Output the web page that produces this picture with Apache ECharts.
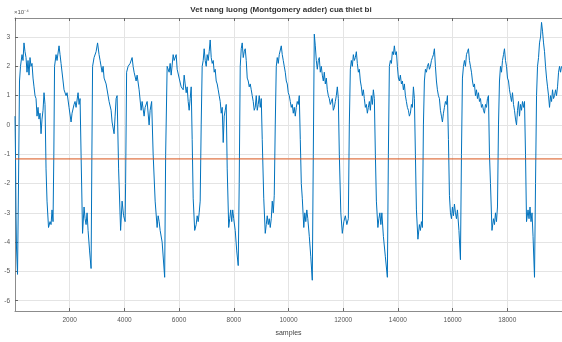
<!DOCTYPE html>
<html>
<head>
<meta charset="utf-8">
<script src="https://cdn.jsdelivr.net/npm/echarts@6/dist/echarts.min.js"></script>
<style>
html,body{margin:0;padding:0;background:#fff;}
#chart{width:562px;height:342px;}
</style>
</head>
<body>
<div id="chart"></div>
<script>
// Title / labels
var titleText = 'Vet nang luong (Montgomery adder) cua thiet bi';
var xLabel = 'samples';
var yExponent = '\u00d710\u207b\u2074';

// Sample indices (x)
var samples = [0,18,37,55,92,128,165,201,256,293,329,366,403,439,476,512,549,586,622,659,695,732,769,805,842,878,915,952,988,1025,1061,1098,1135,1171,1226,1281,1318,1354,1391,1420,1446,1501,1537,1610,1647,1684,1757,1793,1867,1903,1976,2050,2086,2159,2196,2233,2306,2342,2379,2416,2470,2525,2562,2599,2635,2672,2727,2782,2811,2837,2891,2965,3019,3074,3111,3184,3221,3257,3331,3404,3440,3514,3550,3623,3660,3697,3733,3788,3861,3916,3971,4026,4044,4081,4136,4209,4282,4319,4355,4429,4465,4538,4612,4648,4721,4758,4831,4904,4941,4996,5051,5124,5197,5234,5270,5307,5380,5472,5508,5563,5636,5673,5710,5783,5819,5893,5929,6002,6076,6149,6185,6222,6259,6295,6332,6368,6405,6442,6478,6515,6570,6625,6661,6698,6734,6771,6808,6844,6881,6917,6954,6991,7027,7064,7100,7137,7174,7210,7247,7283,7320,7357,7393,7430,7466,7503,7540,7576,7613,7649,7686,7723,7759,7814,7851,7887,7924,7960,7997,8052,8107,8162,8198,8235,8272,8308,8345,8381,8418,8455,8491,8528,8564,8601,8638,8674,8711,8747,8784,8821,8857,8894,8930,8967,9004,9040,9095,9150,9187,9223,9260,9296,9333,9370,9406,9443,9479,9516,9553,9589,9626,9662,9699,9736,9772,9809,9845,9882,9919,9955,9992,10028,10065,10102,10138,10175,10211,10248,10285,10321,10358,10394,10431,10468,10504,10559,10596,10632,10669,10706,10760,10815,10870,10907,10943,10980,11017,11053,11090,11126,11163,11200,11236,11273,11309,11346,11383,11419,11456,11492,11529,11566,11602,11639,11675,11712,11749,11785,11822,11858,11913,11968,12023,12078,12133,12188,12224,12261,12298,12334,12371,12407,12444,12481,12517,12554,12590,12627,12664,12700,12737,12773,12810,12847,12883,12920,12956,12993,13030,13066,13103,13139,13176,13213,13268,13304,13341,13377,13414,13469,13542,13615,13652,13688,13725,13762,13798,13835,13871,13908,13945,13981,14018,14054,14091,14128,14164,14201,14237,14274,14311,14347,14384,14420,14457,14494,14530,14567,14603,14640,14677,14732,14786,14823,14860,14896,14933,14969,15006,15043,15079,15116,15152,15189,15226,15262,15299,15335,15372,15409,15445,15482,15518,15555,15592,15628,15665,15701,15738,15775,15811,15848,15884,15921,15958,15994,16031,16067,16104,16141,16177,16232,16287,16324,16360,16397,16433,16470,16507,16543,16580,16616,16653,16690,16726,16763,16799,16836,16873,16909,16946,16982,17019,17056,17092,17129,17165,17202,17239,17275,17312,17348,17385,17440,17495,17531,17568,17605,17641,17678,17714,17751,17788,17824,17861,17897,17934,17971,18007,18044,18080,18117,18154,18190,18227,18263,18300,18337,18373,18410,18446,18483,18520,18556,18593,18629,18666,18703,18758,18794,18831,18867,18904,18941,18995,19032,19069,19105,19142,19178,19215,19252,19288,19325,19361,19398,19435,19471,19508,19544,19581,19618,19654,19691,19727,19764,19800,19837,19874,19910,19947,19983];

// Trace values (units of 1e-4)
var trace = [0.3,-1.0,-3.0,-4.2,-5.1,-2.0,1.5,2.0,2.4,2.2,2.8,2.5,2.3,1.8,2.2,1.7,2.3,2.0,2.1,1.6,1.3,1.0,0.9,0.3,0.6,0.2,0.4,-0.3,0.2,0.5,1.1,0.7,-1.5,-2.6,-3.5,-3.3,-3.4,-2.9,-3.3,-1.0,2.0,2.4,2.2,2.7,2.4,2.1,1.5,1.2,1.0,1.1,0.6,0.1,0.4,0.7,0.8,0.6,1.1,0.7,0.9,-1.0,-3.7,-2.8,-3.2,-3.4,-3.0,-3.6,-4.3,-4.9,-1.0,2.0,2.3,2.5,2.8,2.4,2.2,1.8,2.0,1.6,1.4,1.0,0.8,0.5,0.1,-0.3,0.3,0.9,1.0,-1.5,-3.6,-2.6,-3.1,-3.3,-2.0,1.8,2.0,2.1,2.3,2.0,1.8,1.5,1.7,1.2,0.5,0.8,0.3,0.6,0.8,0.0,0.5,0.8,-1.0,-2.6,-3.5,-3.1,-3.3,-3.6,-4.0,-5.2,-1.0,2.0,1.8,2.1,1.7,2.4,2.2,2.4,1.9,1.6,1.3,1.2,1.7,1.4,1.1,1.3,0.8,0.5,0.9,1.3,-0.5,-2.5,-3.6,-3.4,-3.1,-3.3,-3.0,-2.6,0.0,2.0,2.2,2.6,2.2,2.0,2.4,2.2,2.5,2.9,2.3,2.1,2.2,1.8,1.9,1.5,1.4,1.2,1.0,0.8,0.4,0.6,-0.6,0.3,0.5,0.7,-1.5,-3.5,-3.2,-2.9,-3.3,-2.9,-3.2,-3.6,-4.3,-4.8,-2.0,2.0,2.6,2.8,2.3,2.5,2.6,2.2,1.6,1.5,1.3,1.4,1.2,1.0,0.8,0.5,0.6,1.0,0.5,0.7,1.0,0.6,0.9,-0.5,-2.5,-3.7,-3.4,-3.1,-3.4,-3.2,-3.5,-3.2,-2.6,-3.0,-2.4,0.0,2.0,2.3,2.1,2.4,2.4,2.7,2.4,2.2,2.0,1.8,1.5,1.4,1.1,1.0,0.8,0.6,0.7,0.4,0.6,0.3,0.6,0.8,0.7,1.0,-0.5,-2.0,-2.5,-3.5,-3.0,-3.3,-2.9,-3.2,-3.8,-4.5,-5.3,-1.0,3.1,2.7,2.2,1.9,2.2,2.3,1.8,2.0,1.7,1.5,1.8,1.4,1.6,1.2,1.0,0.9,0.7,0.8,0.9,0.5,0.6,0.8,1.0,1.3,0.9,-1.0,-3.0,-3.7,-3.3,-3.1,-3.4,-3.2,0.0,1.9,2.2,2.0,2.4,2.2,2.3,2.5,2.1,1.8,1.9,1.5,1.3,1.0,1.2,0.9,0.6,0.7,0.4,0.6,0.8,0.5,1.0,0.7,1.2,0.9,-1.0,-2.6,-3.5,-3.2,-3.0,-3.4,-3.0,-3.8,-4.5,-5.2,-1.0,2.0,2.2,2.1,2.5,2.4,2.7,2.4,2.5,2.0,1.6,1.5,1.7,1.4,1.5,1.2,1.4,1.0,0.8,0.6,0.5,0.3,0.4,0.7,0.6,1.3,0.9,-1.0,-2.9,-3.9,-3.4,-3.6,-3.3,-3.5,0.0,1.5,1.9,1.8,2.0,2.1,1.9,2.0,2.2,2.3,2.4,2.6,2.0,1.5,1.2,1.0,0.9,0.5,0.3,0.1,0.4,0.6,0.8,0.7,1.0,-0.5,-2.4,-3.0,-3.2,-2.8,-3.1,-2.7,-3.0,-3.2,-2.9,-3.6,-4.6,-1.0,1.6,2.0,2.2,2.0,2.4,2.5,2.6,2.2,2.0,1.8,1.5,1.3,1.4,1.0,1.2,0.9,1.1,0.8,0.9,0.6,0.7,0.5,0.4,0.7,0.6,0.9,1.0,-1.0,-2.0,-3.6,-3.2,-3.4,-3.0,-3.3,-2.8,0.0,1.5,2.0,1.8,2.2,2.4,2.6,2.2,2.0,1.6,1.5,1.2,1.0,0.8,1.1,0.7,0.5,0.2,0.0,0.5,0.8,0.3,0.7,0.5,0.8,0.6,0.8,-1.0,-3.3,-2.9,-3.2,-2.8,-3.3,-3.0,-3.8,-5.2,-2.0,1.0,2.0,2.3,2.8,3.0,3.5,3.2,2.8,2.5,2.0,1.6,1.3,1.0,0.6,1.0,0.8,1.2,0.9,1.0,1.2,1.0,1.3,1.8,2.0,1.8,2.0];

// Threshold line (units of 1e-4)
var threshold = -1.16;
var xRange = [0, 20000];
var yRange = [-6.35, 3.65];
var yTickValues = [-6,-5,-4,-3,-2,-1,0,1,2,3];
var xTickValues = [2000,4000,6000,8000,10000,12000,14000,16000,18000];

var traceData = samples.map(function(s, i){ return [s, trace[i]]; });
var thrData = [[xRange[0], threshold], [xRange[1], threshold]];

var FONT = '"Liberation Sans", Arial, Helvetica, sans-serif';
var chart = echarts.init(document.getElementById('chart'), null, {renderer:'canvas'});
chart.setOption({
  animation: false,
  backgroundColor: '#ffffff',
  title: {
    text: titleText, left: 'center', top: 1,
    textStyle: {fontFamily: FONT, fontSize: 8, fontWeight: 'bold', color: '#333'}
  },
  graphic: [{
    type: 'text', left: 14, top: 9,
    style: {text: yExponent, font: '6px ' + FONT, fill: '#555'}
  }],
  grid: {left: 15, right: -1, top: 18, bottom: 28.5, containLabel: false},
  xAxis: [{
    type: 'value', min: xRange[0], max: xRange[1], interval: 2000,
    name: xLabel, nameLocation: 'middle', nameGap: 19,
    nameTextStyle: {fontFamily: FONT, fontSize: 7, color: '#444'},
    axisLine: {show: true, onZero: false, lineStyle: {color: '#8c8c8c', width: 1}},
    axisTick: {show: true, inside: true, length: 3, lineStyle: {color: '#666'}},
    axisLabel: {
      showMinLabel: false, showMaxLabel: false, margin: 6,
      fontFamily: FONT, fontSize: 6.5, color: '#555',
      formatter: function(v){ return xTickValues.indexOf(v) >= 0 ? String(v) : ''; }
    },
    splitLine: {show: true, lineStyle: {color: '#e4e4e4', width: 1}}
  }, {
    type: 'value', position: 'top', min: xRange[0], max: xRange[1], interval: 2000,
    axisLine: {show: true, onZero: false, lineStyle: {color: '#8c8c8c', width: 1}},
    axisTick: {show: true, inside: true, length: 3, lineStyle: {color: '#666'}},
    axisLabel: {show: false}, splitLine: {show: false}
  }],
  yAxis: [{
    type: 'value', min: yRange[0], max: yRange[1],
    axisLine: {show: true, onZero: false, lineStyle: {color: '#8c8c8c', width: 1}},
    axisTick: {show: true, inside: true, length: 3, lineStyle: {color: '#666'}, customValues: yTickValues},
    axisLabel: {
      margin: 5, customValues: yTickValues,
      fontFamily: FONT, fontSize: 6.5, color: '#555'
    },
    splitLine: {show: true, lineStyle: {color: '#e4e4e4', width: 1}}
  }],
  series: [{
    type: 'line', xAxisIndex: 0, yAxisIndex: 0, data: traceData,
    showSymbol: false, symbol: 'none',
    lineStyle: {color: '#0072BD', width: 1},
    z: 3
  }, {
    type: 'line', xAxisIndex: 0, yAxisIndex: 0, data: thrData,
    showSymbol: false, symbol: 'none',
    lineStyle: {color: '#D95319', width: 1},
    z: 4
  }]
});
</script>
</body>
</html>
